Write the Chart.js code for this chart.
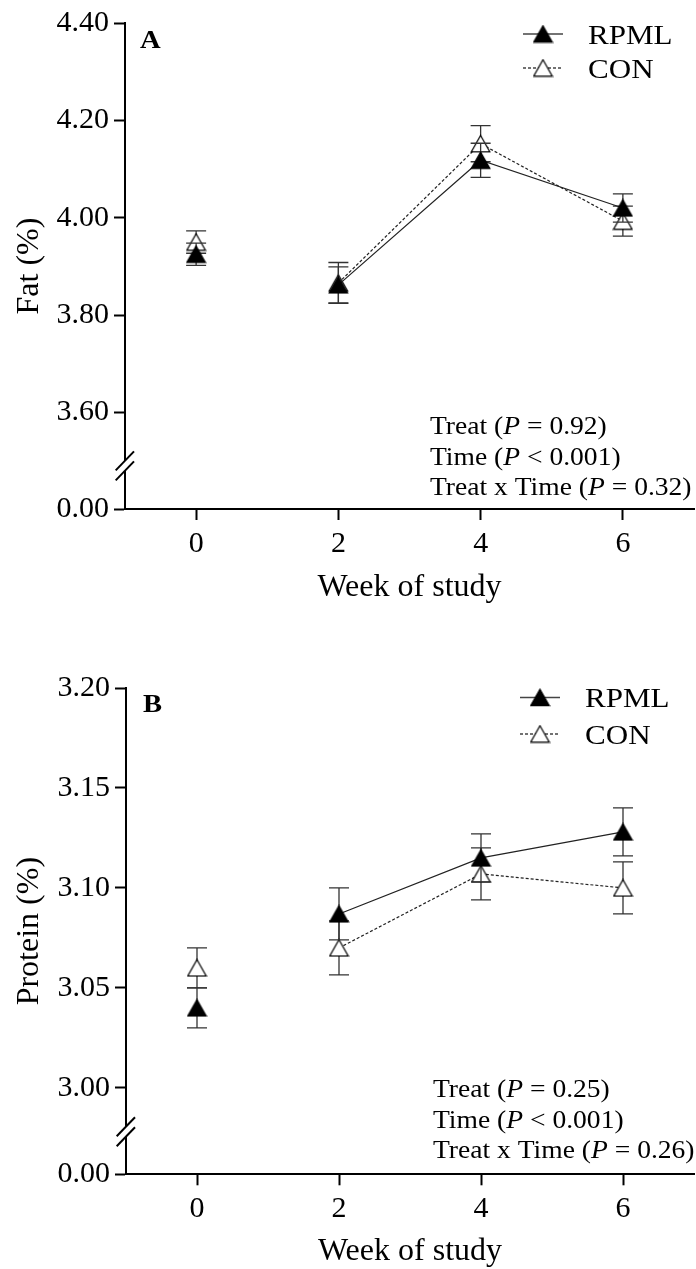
<!DOCTYPE html>
<html lang="en">
<head>
<meta charset="UTF-8">
<title>Milk fat and protein by week of study</title>
<script src="https://cdn.jsdelivr.net/npm/chart.js"></script>
<style>
  html, body { margin: 0; padding: 0; background: #fff; overflow: hidden; }
  .panel { position: absolute; left: 0; width: 696px; }
  #panelA { top: 0; height: 625px; }
  #panelB { top: 623px; height: 646px; }
</style>
</head>
<body>
<div class="panel" id="panelA"><canvas id="fatChart"></canvas></div>
<div class="panel" id="panelB"><canvas id="proteinChart"></canvas></div>

<script>
// weeks sampled and x-axis ticks
const weeks = [0, 2, 4, 6];
const xTicks = [0, 2, 4, 6];

// A: fat (%), mean and SEM
const fatRPML = [3.925, 3.862, 4.118, 4.020];
const fatRPMLse = [0.023, 0.037, 0.035, 0.029];
const fatCON = [3.950, 3.866, 4.152, 3.993];
const fatCONse = [0.023, 0.042, 0.037, 0.031];
const fatTicks = [3.60, 3.80, 4.00, 4.20, 4.40];
const fatP = ['0.92', '0.001', '0.32'];

// B: protein (%), mean and SEM
const protRPML = [3.040, 3.087, 3.115, 3.128];
const protRPMLse = [0.010, 0.013, 0.012, 0.012];
const protCON = [3.060, 3.070, 3.107, 3.100];
const protCONse = [0.010, 0.0135, 0.013, 0.013];
const protTicks = [3.00, 3.05, 3.10, 3.15, 3.20];
const protP = ['0.25', '0.001', '0.26'];

const FONT = "'Liberation Serif', 'Times New Roman', Times, serif";

// triangle symbols, drawn once and used as point images
function triangle(filled) {
  const c = document.createElement('canvas');
  c.width = 21; c.height = 19;
  const g = c.getContext('2d');
  g.beginPath();
  g.moveTo(10.5, 1.2);
  g.lineTo(19.8, 17.6);
  g.lineTo(1.2, 17.6);
  g.closePath();
  g.fillStyle = filled ? '#000' : '#fff';
  g.fill();
  g.lineWidth = 1.2;
  g.strokeStyle = '#000';
  g.stroke();
  return c;
}
const solidTri = triangle(true);
const openTri = triangle(false);

function series(label, values, se, marker, dash) {
  return {
    label: label,
    se: se,
    data: weeks.map((w, i) => ({ x: w, y: values[i] })),
    yAxisID: 'y',
    borderColor: '#222',
    borderWidth: 1.2,
    borderDash: dash,
    pointStyle: marker,
    pointRadius: 10,
    fill: false,
    tension: 0,
    // the week-0 sample stands alone, no line into week 2
    segment: { borderColor: c => c.p0.parsed.x < weeks[1] ? 'rgba(0,0,0,0)' : undefined }
  };
}

// error bars for each dataset, drawn just before its line and symbols
const errorBars = {
  id: 'errorBars',
  beforeDatasetDraw(chart, args) {
    const ds = chart.data.datasets[args.index];
    if (!ds.se) return;
    const ys = args.meta.vScale;
    const ctx = chart.ctx;
    ctx.save();
    ctx.strokeStyle = '#333';
    ctx.lineWidth = 1.3;
    args.meta.data.forEach((pt, i) => {
      const v = ds.data[i].y, e = ds.se[i];
      const t = ys.getPixelForValue(v + e), b = ys.getPixelForValue(v - e);
      ctx.beginPath();
      ctx.moveTo(pt.x, t); ctx.lineTo(pt.x, b);
      ctx.moveTo(pt.x - 10, t); ctx.lineTo(pt.x + 10, t);
      ctx.moveTo(pt.x - 10, b); ctx.lineTo(pt.x + 10, b);
      ctx.stroke();
    });
    ctx.restore();
  }
};

function wideText(ctx, parts, x, y, size, sx) {
  ctx.save();
  ctx.translate(x, y);
  ctx.scale(sx, 1);
  let cx = 0;
  parts.forEach((p, i) => {
    ctx.font = (i % 2 ? 'italic ' : '') + size + 'px ' + FONT;
    ctx.fillText(p, cx, 0);
    cx += ctx.measureText(p).width;
  });
  ctx.restore();
}

// broken y axis, y title, panel letter, legend and test results
const panelDecor = {
  id: 'panelDecor',
  afterDraw(chart, args, o) {
    const ctx = chart.ctx;
    const area = chart.chartArea;
    const yTop = chart.scales.y;
    const bx = yTop.right, by = yTop.bottom;

    ctx.save();
    ctx.fillStyle = '#fff';
    ctx.fillRect(bx - 3, by - 5, 6, 10);
    ctx.strokeStyle = '#000';
    ctx.lineWidth = 2;
    [-5, 5].forEach(d => {
      ctx.beginPath();
      ctx.moveTo(bx - 9.3, by + d + 9.4);
      ctx.lineTo(bx + 9, by + d - 9.6);
      ctx.stroke();
    });

    ctx.fillStyle = '#000';
    ctx.save();
    ctx.font = '32px ' + FONT;
    ctx.textAlign = 'center';
    ctx.textBaseline = 'middle';
    ctx.translate(o.titleX, (area.top + area.bottom) / 2);
    ctx.rotate(-Math.PI / 2);
    ctx.fillText(o.yTitle, 0, 0);
    ctx.restore();

    ctx.textBaseline = 'alphabetic';
    ctx.save();
    ctx.translate(o.letter[1], o.letter[2]);
    ctx.scale(1.1, 1);
    ctx.font = 'bold 26px ' + FONT;
    ctx.fillText(o.letter[0], 0, 0);
    ctx.restore();

    // legend: short line with symbol, then the label
    o.legend.forEach((it, i) => {
      const ly = o.legendY[i];
      ctx.save();
      ctx.strokeStyle = '#444';
      ctx.lineWidth = 1.3;
      ctx.setLineDash(it.dash);
      ctx.beginPath();
      ctx.moveTo(o.legendX, ly);
      ctx.lineTo(o.legendX + 40, ly);
      ctx.stroke();
      ctx.restore();
      ctx.drawImage(it.marker, o.legendX + 20 - it.marker.width / 2, ly - it.marker.height / 2);
      wideText(ctx, [it.label], o.legendX + 65, ly + 9.5, 27, 1.15);
    });

    const lines = [
      ['Treat (', 'P', ' = ' + o.pvals[0] + ')'],
      ['Time (', 'P', ' < ' + o.pvals[1] + ')'],
      ['Treat x Time (', 'P', ' = ' + o.pvals[2] + ')']
    ];
    lines.forEach((parts, i) => wideText(ctx, parts, o.statsX, o.statsY[i], 26, 1.06));
    ctx.restore();
  }
};

const axisGrid = { drawOnChartArea: false, drawTicks: true, tickLength: 11, tickWidth: 2, tickColor: '#000' };
const axisBorder = { display: true, color: '#000', width: 2 };
const tickFont = { family: FONT, size: 30 };

function buildPanel(id, cfg) {
  const top = cfg.yTicks[cfg.yTicks.length - 1];
  return new Chart(document.getElementById(id), {
    type: 'line',
    data: {
      datasets: [
        series('RPML', cfg.rpml, cfg.rpmlSe, solidTri, []),
        series('CON', cfg.con, cfg.conSe, openTri, [3, 2])
      ]
    },
    options: {
      responsive: true,
      maintainAspectRatio: false,
      animation: false,
      events: [],
      layout: { autoPadding: false, padding: { top: cfg.padTop, right: 2, left: 0, bottom: 0 } },
      plugins: {
        legend: { display: false },
        tooltip: { enabled: false },
        panelDecor: cfg.decor
      },
      scales: {
        x: {
          type: 'linear', min: -1, max: 7,
          afterBuildTicks: s => { s.ticks = xTicks.map(v => ({ value: v })); },
          afterFit: s => { s.height = cfg.xHeight; s.paddingLeft = 0; s.paddingRight = 0; },
          grid: axisGrid, border: axisBorder,
          ticks: { font: tickFont, color: '#000', padding: 6, maxRotation: 0, callback: v => String(v) },
          title: {
            display: true, text: 'Week of study', color: '#000',
            font: { family: FONT, size: 32, lineHeight: 1.1 },
            padding: { top: 0, bottom: cfg.titlePad }
          }
        },
        // left boxes stack in reverse order: the lower segment is listed first
        y0: {
          type: 'linear', axis: 'y', position: 'left',
          stack: 'v', stackWeight: cfg.weights[1],
          min: 0, max: 1,
          afterBuildTicks: s => { s.ticks = [{ value: 0 }]; },
          afterFit: s => { s.width = cfg.axisX; },
          grid: axisGrid, border: axisBorder,
          ticks: { font: tickFont, color: '#000', padding: 5, callback: v => v.toFixed(2) }
        },
        y: {
          type: 'linear', axis: 'y', position: 'left',
          stack: 'v', stackWeight: cfg.weights[0],
          min: cfg.topMin, max: top,
          afterBuildTicks: s => { s.ticks = cfg.yTicks.map(v => ({ value: v })); },
          afterFit: s => { s.width = cfg.axisX; },
          grid: axisGrid, border: axisBorder,
          ticks: { font: tickFont, color: '#000', padding: 5, callback: v => v.toFixed(2) }
        }
      }
    },
    plugins: [errorBars, panelDecor]
  });
}

const legendItems = [
  { label: 'RPML', marker: solidTri, dash: [] },
  { label: 'CON', marker: openTri, dash: [3, 2] }
];

buildPanel('fatChart', {
  rpml: fatRPML, rpmlSe: fatRPMLse, con: fatCON, conSe: fatCONse,
  yTicks: fatTicks, topMin: 3.49, weights: [442.7, 43],
  axisX: 125, padTop: 23, xHeight: 116, titlePad: 20,
  decor: {
    yTitle: 'Fat (%)', titleX: 30, letter: ['A', 140, 48],
    legend: legendItems, legendX: 523, legendY: [34, 68],
    pvals: fatP, statsX: 430, statsY: [434, 464.5, 495]
  }
});

buildPanel('proteinChart', {
  rpml: protRPML, rpmlSe: protRPMLse, con: protCON, conSe: protCONse,
  yTicks: protTicks, topMin: 2.978, weights: [443.6, 42.4],
  axisX: 126, padTop: 65, xHeight: 94.7, titlePad: 0,
  decor: {
    yTitle: 'Protein (%)', titleX: 30, letter: ['B', 143, 88.5],
    legend: legendItems, legendX: 520, legendY: [74.5, 111],
    pvals: protP, statsX: 433, statsY: [473.7, 505.3, 535.3]
  }
});
</script>
</body>
</html>
